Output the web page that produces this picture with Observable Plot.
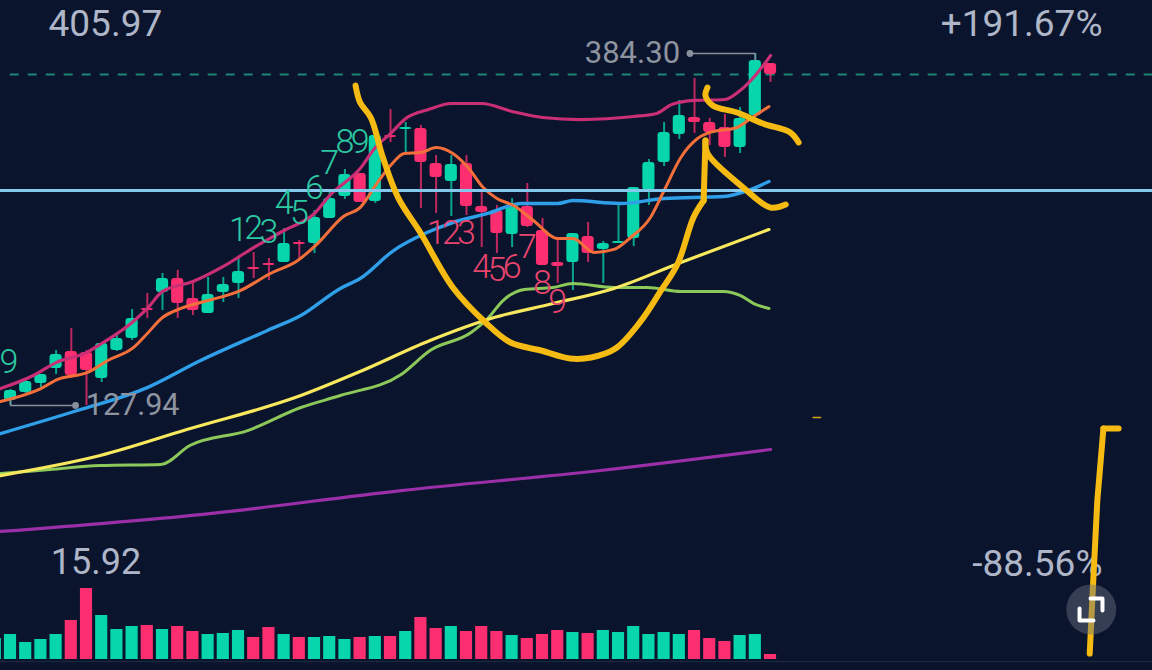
<!DOCTYPE html>
<html>
<head>
<meta charset="utf-8">
<script src="https://cdn.jsdelivr.net/npm/d3@7"></script>
<script src="https://cdn.jsdelivr.net/npm/@observablehq/plot@0.6"></script>
<style>
html,body{margin:0;padding:0;background:#0a142c;width:1152px;height:670px;overflow:hidden}
#chart{position:relative;width:1152px;height:670px}
#chart svg{position:absolute;left:0;display:block;overflow:visible}
</style>
</head>
<body>
<div id="chart"></div>
<script>
// Candles (index 0..50), prices
const highs = [139.6,146.9,150.5,168.0,184.0,168.0,173.8,178.9,197.8,209.5,224.1,226.3,217.5,221.2,221.2,235.0,239.4,235.0,256.8,248.1,270.0,283.1,299.8,296.9,324.6,343.5,334.0,331.9,310.0,310.0,310.0,285.2,273.6,278.7,289.6,264.1,249.6,253.2,261.2,247.4,275.1,286.7,307.1,334.0,350.1,366.1,337.0,339.9,345.0,384.3,377.0];
const lows  = [127.94,136.7,141.0,150.5,147.6,127.9,144.7,167.3,175.3,191.3,197.1,191.3,193.5,194.9,202.9,205.9,220.4,219.0,232.1,235.0,238.6,264.1,278.0,275.8,275.1,319.5,311.5,271.4,267.8,265.6,266.3,243.0,238.6,243.0,257.6,229.9,216.8,211.7,232.1,216.8,245.9,243.7,273.6,302.0,321.7,326.0,317.3,308.6,311.5,339.1,363.2];
const opens = [131.6,137.4,144.0,154.9,167.3,166.5,147.6,168.0,176.7,198.5,210.2,220.4,205.9,194.9,210.2,216.8,228.4,231.4,232.1,246.6,245.9,264.1,280.2,296.9,276.5,324.6,328.9,329.7,304.2,291.1,304.2,272.9,270.0,252.5,272.9,255.4,232.1,232.1,251.0,241.6,245.9,249.6,284.5,304.9,325.3,337.7,334.0,330.4,315.8,339.1,377.0];
const closes= [138.9,145.4,150.5,165.1,149.8,153.4,173.1,176.7,191.3,197.1,220.4,202.2,197.1,208.8,216.1,225.5,227.0,229.9,245.9,245.2,264.9,278.7,296.2,275.8,324.6,323.1,330.4,304.9,294.0,303.5,272.9,268.5,253.2,274.3,258.3,229.9,229.2,253.2,238.6,245.9,247.4,286.7,304.9,326.8,339.1,334.0,326.8,315.8,337.0,379.2,369.0];

// Volume, index -1..50
const volumes = [21,25,17,20,25,39,71,44,30,33,34,30,33,28,25,26,29,22,32,25,22,22,23,20,22,23,23,28,42,31,33,28,33,28,24,21,25,29,27,26,29,27,33,25,27,25,29,21,18,24,25,5];
const volumeStartIndex = -1;

// Indicator lines: candle index and price
const pinkX = [-0.66,1.5,3,5,6,8,9,10,12,14,16,18,20,21,23,24,25,26,27.5,29,31,33,35,37.5,41,42.5,43.5,45,47,48,49,50];
const pinkY = [140.3,149.8,159.2,166.5,173.1,188.4,198.6,211.0,218.2,229.2,243.0,255.4,267.8,280.9,300.5,315.8,326.0,337.0,343.5,347.9,347.9,342.1,337.7,336.2,338.4,340.6,347.2,350.1,350.8,357.3,368.3,382.8];
const orangeX = [-0.66,2,3.1,5.07,6.4,8.1,9,10,11.2,13,15,17.1,18.9,20.2,21.9,23,24.1,25,25.9,27,28,29.1,30.1,31.1,32,33.1,34.4,36,37,38.4,39.7,40.8,42.1,43,44.1,45.2,46,47.8,48.7,49.9];
const orangeY = [130.9,140.3,146.9,152.0,160.7,170.2,180.4,192.0,198.6,204.4,211.0,224.1,233.6,245.9,265.6,272.1,289.6,302.7,311.5,312.2,315.8,311.5,301.3,286.7,278.7,273.6,262.7,249.6,249.6,239.4,241.6,250.3,264.9,284.5,308.6,322.4,326.8,330.4,337.0,345.7];
const blueX = [-0.66,4.4,9,12.5,16.9,19.1,21.7,23,25.2,27.4,29.1,31.4,33.6,36,37,40.1,43,46.9,48.5,49.9];
const blueY = [107.5,124.3,141.0,160.7,182.6,193.5,213.2,220.4,240.8,253.9,261.2,267.8,275.1,275.1,277.2,275.1,278.7,280.2,284.5,291.1];
const yellowX = [-0.66,5.9,11.6,19.1,23,27.6,31.6,35.7,39.7,44.1,49.9];
const yellowY = [76.9,91.5,110.4,135.2,152.7,175.3,191.3,202.2,213.2,232.1,256.1];
const limeX = [-0.66,2.6,5.9,9.9,11.8,15.6,19.1,21.7,25.7,27.6,30.3,31.4,32.4,33.8,35.7,37,39.7,41.9,44.1,46.9,48,48.9,49.9];
const limeY = [78.4,81.3,84.2,85.0,98.8,109.7,126.5,135.2,150.5,168.0,181.1,191.3,204.4,212.4,213.9,216.8,213.9,213.9,211.0,211.0,208.1,202.2,198.6];
const purpleX = [-0.66,12.5,25.7,38.8,50];
const purpleY = [36.2,48.5,66.0,80.6,95.9];

// Levels
const horizontalLevel = 284.5;
const dashedLevel = 369.0;

// Hand-drawn yellow strokes
const stroke1X = [22.7,23.0,23.7,24.5,25.5,27,29.1,31.25,32.9,34.9,36.8,38.2,39.8,41.4,42.8,43.9,44.93,45.6];
const stroke1Y = [361.0,348.6,337.7,308.6,279.4,253.2,213.9,188.4,173.8,168.0,162.2,162.9,169.4,188.4,211.7,231.4,264.9,277.2];
const strokeStemX = [45.6,45.72];
const strokeStemY = [277.2,320.9];
const stroke2X = [45.72,45.85,48.2,50,51];
const stroke2Y = [320.9,311.5,286.7,272.1,274.3];
const stroke3X = [45.85,45.72,46.2,47.8,49.5,51.3,51.85];
const stroke3Y = [359.5,353.7,346.4,341.3,333.3,326.8,319.5];
const stroke4X = [72.9,71.9];
const stroke4Y = [111.2,111.2];
const stroke5X = [71.9,71.5,71.2,71];
const stroke5Y = [111.2,58.75,-6.8,-52.7];
const tickDashX = [52.8,53.3];
const tickDashY = [119.2,119.2];

// Sequence digits
const upDigits = ["9","1","2","3","4","5","6","7","8","9"];
const upDigitX = [-0.1,15,16,17,18,19,20,21,22,23];
const upDigitY = [159.2,255.4,256.8,253.9,275.1,267.8,286.0,304.2,319.5,319.5];
const downDigits = ["1","2","3","4","5","6","7","8","9"];
const downDigitX = [28,29,30,31,32,33,34,35,36];
const downDigitY = [253.2,253.2,253.2,228.4,226.3,228.4,243.0,216.8,202.9];

// Corner labels
const leftLabels = ["405.97","15.92"];
const leftLabelX = [2.5,2.65];
const leftLabelY = [405.4,13.6];
const leftLabelSize = [37,36];
const rightLabels = ["+191.67%","-88.56%"];
const rightLabelX = [71.84,71.84];
const rightLabelY = [405.4,12.1];

// High/low markers
const highLabel = "384.30";
const highLineX = [44.7,49,49];
const highLineY = [384.3,384.3,379.2];
const lowLabel = "127.94";
const lowLineX = [0,0,4.28];
const lowLineY = [131.6,127.94,127.94];

// Expand button
const buttonX = 71.1, buttonY = -20.6;
const bracketAX = [71.05,71.84,71.84];
const bracketAY = [-12.6,-12.6,-21.4];
const bracketBX = [70.33,70.33,71.25];
const bracketBY = [-19.9,-28.7,-28.7];

const GREEN = "#07d5ab", RED = "#fb2f6f", BG = "#0a142c", PEN = "#f5bb12";
const xScale = {domain:[-0.658,75.13], range:[0,1152], axis:null};
const pts = (xs,ys) => xs.map((x,i)=>({x,y:ys[i]}));

const candles = highs.map((h,i)=>({i,high:h,low:lows[i],open:opens[i],close:closes[i],up:closes[i]>=opens[i]}));
const volRows = volumes.map((v,k)=>{
  const i = k+volumeStartIndex;
  return {i,v,up: i<0 ? true : closes[i]>=opens[i]};
});

const line = (xs,ys,stroke,width=3,curve="monotone-x",extra={}) =>
  Plot.line(pts(xs,ys),{x:"x",y:"y",stroke,strokeWidth:width,curve,strokeLinecap:"round",strokeLinejoin:"round",...extra});
const label = (t,x,y,o) => Plot.text([t],{x:()=>x,y:()=>y,fontFamily:"Roboto",...o});

const volPlot = Plot.plot({
  width:1152,height:100,margin:0,
  x:xScale,
  y:{domain:[89,-11],range:[0,100],axis:null},
  style:{background:"transparent"},
  marks:[
    Plot.rect(volRows.filter(d=>d.up),{x1:d=>d.i-0.4,x2:d=>d.i+0.4,y1:0,y2:"v",fill:GREEN}),
    Plot.rect(volRows.filter(d=>!d.up),{x1:d=>d.i-0.4,x2:d=>d.i+0.4,y1:0,y2:"v",fill:RED}),
    Plot.ruleY([-2],{stroke:"#1c2a3c",strokeWidth:1})
  ]
});
volPlot.style.top = "570px";

const mainPlot = Plot.plot({
  width:1152,height:670,margin:0,
  x:xScale,
  y:{domain:[422.9,-65.06],range:[0,670],axis:null},
  style:{background:"transparent"},
  marks:[
    Plot.ruleY([dashedLevel],{x1:-0.02,x2:75.13,stroke:"#1f8574",strokeWidth:1.8,strokeDasharray:"9,9"}),
    // wicks
    Plot.ruleX(candles.filter(d=>d.up),{x:"i",y1:"low",y2:"high",stroke:GREEN,strokeOpacity:0.75,strokeWidth:2}),
    Plot.ruleX(candles.filter(d=>!d.up),{x:"i",y1:"low",y2:"high",stroke:RED,strokeOpacity:0.75,strokeWidth:2}),
    // bodies
    Plot.rect(candles.filter(d=>d.up),{x1:d=>d.i-0.4,x2:d=>d.i+0.4,y1:"open",y2:"close",fill:GREEN,rx:3}),
    Plot.rect(candles.filter(d=>!d.up),{x1:d=>d.i-0.4,x2:d=>d.i+0.4,y1:"open",y2:"close",fill:RED,rx:3}),
    // indicators
    line(purpleX,purpleY,"#9a2fa8",3.2),
    line(limeX,limeY,"#8cc85a",3),
    line(yellowX,yellowY,"#f7e85e",3.2),
    line(blueX,blueY,"#2e9fe8",3.4),
    line(orangeX,orangeY,"#f4703a",3),
    line(pinkX,pinkY,"#c92f74",3.2),
    Plot.ruleY([horizontalLevel],{stroke:"#85c8ee",strokeWidth:3}),
    // sequence digits
    Plot.text(upDigits,{x:(d,i)=>upDigitX[i],y:(d,i)=>upDigitY[i],text:d=>d,fill:"#2cc9a3",fontFamily:"Roboto",fontWeight:300,fontSize:34}),
    Plot.text(downDigits,{x:(d,i)=>downDigitX[i],y:(d,i)=>downDigitY[i],text:d=>d,fill:"#e8446f",fontFamily:"Roboto",fontWeight:300,fontSize:34}),
    // markers
    line(highLineX,highLineY,"#8a8f9c",1.4,"linear"),
    line(lowLineX,lowLineY,"#8a8f9c",1.4,"linear"),
    Plot.dot([0],{x:()=>highLineX[0],y:()=>highLineY[0],r:3.4,fill:"#8a8f9c"}),
    Plot.dot([0],{x:()=>lowLineX[2],y:()=>lowLineY[2],r:3.4,fill:"#8a8f9c"}),
    label(highLabel,44.05,highLineY[0],{text:()=>highLabel,textAnchor:"end",fontSize:31,fill:"#8e93a0"}),
    label(lowLabel,4.95,lowLineY[2],{text:()=>lowLabel,textAnchor:"start",fontSize:30.5,fill:"#8e93a0"}),
    // corner labels
    Plot.text(leftLabels,{x:(d,i)=>leftLabelX[i],y:(d,i)=>leftLabelY[i],text:d=>d,textAnchor:"start",fontFamily:"Roboto",fontSize:(d,i)=>leftLabelSize[i],fill:"#aeb6c8"}),
    Plot.text(rightLabels,{x:(d,i)=>rightLabelX[i],y:(d,i)=>rightLabelY[i],text:d=>d,textAnchor:"end",fontFamily:"Roboto",fontSize:37,fill:"#aeb6c8"}),
    // hand-drawn strokes
    line(stroke1X,stroke1Y,PEN,6,"catmull-rom"),
    line(strokeStemX,strokeStemY,PEN,6,"linear"),
    line(stroke2X,stroke2Y,PEN,6,"catmull-rom"),
    line(stroke3X,stroke3Y,PEN,6,"catmull-rom"),
    line(stroke4X,stroke4Y,PEN,6,"linear"),
    line(stroke5X,stroke5Y,PEN,6,"linear"),
    line(tickDashX,tickDashY,"#d9a514",1.4,"linear"),
    // button
    Plot.dot([0],{x:()=>buttonX,y:()=>buttonY,r:25,fill:"#6b7180",fillOpacity:0.45}),
    line(bracketAX,bracketAY,"#ffffff",4,"linear"),
    line(bracketBX,bracketBY,"#ffffff",4,"linear")
  ]
});
mainPlot.style.top = "0px";

const host = document.getElementById("chart");
host.appendChild(volPlot);
host.appendChild(mainPlot);
</script>
</body>
</html>
